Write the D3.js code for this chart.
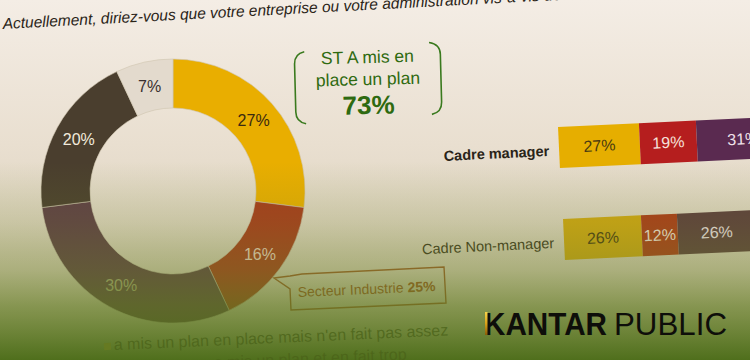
<!DOCTYPE html>
<html><head><meta charset="utf-8">
<script src="https://cdn.jsdelivr.net/npm/d3@7"></script>
<style>html,body{margin:0;padding:0;background:#f3ebe2;overflow:hidden}svg{display:block}text{font-family:"Liberation Sans",Arial,sans-serif}</style>
</head><body>
<script>
// ---- data ----
const donutCategories = ["segA", "segB", "segC", "segD", "segE"];
const donutValues = [27, 16, 30, 20, 7];
const donutColors = ["#e9ae00", "#a83a1c", "#5e3d46", "#4a3e2e", "#e3dacd"];
const donutTextColors = ["#3a2a10", "#f2d6c6", "#b0ad80", "#f2eadc", "#3a3030"];

const barRows = ["Cadre manager", "Cadre Non-manager"];
const barSeries1 = [27, 26];
const barSeries2 = [19, 12];
const barSeries3 = [31, 26];
const barColorsRow = [["#e6ae00", "#b51e1e", "#5a2a50"], ["#d2a812", "#ad3a18", "#5c3c3e"]];
const barTextColors = ["#4a3a10", "#f5e2da", "#f0e2ea"];

const titleText = "Actuellement, diriez-vous que votre entreprise ou votre administration vis-à-vis de la";
const calloutLines = ["ST A mis en", "place un plan", "73%"];
const sectorLabel = ["Secteur Industrie ", "25%"];

const W = 750, H = 360;
const svg = d3.select("body").append("svg").attr("width", W).attr("height", H);
const defs = svg.append("defs");

const bg = defs.append("linearGradient").attr("id", "bg").attr("x1", 0).attr("y1", 0).attr("x2", 0).attr("y2", 1);
[[0, "#f4ede5"], [0.4, "#e9dfd0"], [0.7, "#dcd2bd"], [1, "#d6ccb4"]].forEach(s => bg.append("stop").attr("offset", s[0]).attr("stop-color", s[1]));
const ov = defs.append("linearGradient").attr("id", "ov").attr("x1", 0).attr("y1", 0).attr("x2", 0).attr("y2", 1);
[[0, "rgb(110,130,40)", 0], [0.45, "rgb(110,130,40)", 0], [0.62, "rgb(110,130,40)", 0.2], [0.75, "rgb(105,128,38)", 0.42], [0.85, "rgb(95,122,32)", 0.68], [1, "rgb(72,106,20)", 0.95]]
  .forEach(s => ov.append("stop").attr("offset", s[0]).attr("stop-color", s[1]).attr("stop-opacity", s[2]));
const gold = defs.append("linearGradient").attr("id", "gold").attr("x1", 0).attr("y1", 0).attr("x2", 0).attr("y2", 1);
[[0, "#f7d24a"], [0.5, "#d9a21a"], [1, "#8a5a08"]].forEach(s => gold.append("stop").attr("offset", s[0]).attr("stop-color", s[1]));

svg.append("rect").attr("width", W).attr("height", H).attr("fill", "url(#bg)");

// title
svg.append("text").attr("transform", "translate(3,29) rotate(-3)")
  .attr("font-size", 15.5).attr("font-style", "italic").attr("fill", "#2a2418").text(titleText);

// donut
const cx = 173, cy = 191, rOut = 132, rIn = 83;
const pie = d3.pie().sort(null).value(d => d.v);
const arcs = pie(donutValues.map((v, i) => ({v, i})));
const arc = d3.arc().innerRadius(rIn).outerRadius(rOut);
const g = svg.append("g").attr("transform", `translate(${cx},${cy})`);
g.selectAll("path").data(arcs).join("path").attr("d", arc)
  .attr("fill", d => donutColors[d.data.i]).attr("stroke", "#cfc4ae").attr("stroke-width", 0.6);
g.selectAll("text").data(arcs).join("text")
  .attr("transform", d => `translate(${arc.centroid(d)})`)
  .attr("text-anchor", "middle").attr("dy", "0.35em").attr("font-size", 16)
  .attr("fill", d => donutTextColors[d.data.i]).text(d => d.data.v + "%");

// callout ST
const cg = svg.append("g").attr("transform", "rotate(-1.5,370,80)");
cg.append("path").attr("d", "M305,50 Q295,52 295,62 L295,110 Q295,120 305,122").attr("fill", "none").attr("stroke", "#3a7a1e").attr("stroke-width", 1.6);
cg.append("path").attr("d", "M430,44 Q441,46 441,56 L441,104 Q441,114 431,116").attr("fill", "none").attr("stroke", "#3a7a1e").attr("stroke-width", 1.6);
cg.selectAll("text").data(calloutLines).join("text")
  .attr("x", 368).attr("y", (d, i) => [63, 85, 114][i]).attr("text-anchor", "middle")
  .attr("font-size", (d, i) => i === 2 ? 26 : 17.5).attr("font-weight", (d, i) => i === 2 ? "bold" : "normal")
  .attr("fill", "#2e6a10").text(d => d);

// bars
const x = d3.scaleLinear().domain([0, 100]).range([0, 300]);
const barH = 41;
const rowOrigins = [[558, 127], [563, 219]];
barRows.forEach((row, r) => {
  const vals = [barSeries1[r], barSeries2[r], barSeries3[r]];
  let acc = 0;
  const segs = vals.map((v, k) => { const s = {x0: acc, v, k}; acc += v; return s; });
  const bg2 = svg.append("g").attr("transform", `translate(${rowOrigins[r][0]},${rowOrigins[r][1]}) rotate(-2.7)`);
  bg2.selectAll("rect").data(segs).join("rect")
    .attr("x", d => x(d.x0)).attr("y", 0).attr("width", d => x(d.v)).attr("height", barH)
    .attr("fill", d => barColorsRow[r][d.k]);
  bg2.selectAll("text.v").data(segs).join("text").attr("class", "v")
    .attr("x", d => x(d.x0 + d.v / 2)).attr("y", barH / 2).attr("dy", "0.35em").attr("text-anchor", "middle")
    .attr("font-size", 16).attr("fill", d => barTextColors[d.k]).text(d => d.v + "%");
  bg2.append("text").attr("x", -10).attr("y", barH / 2 + 8).attr("text-anchor", "end")
    .attr("font-size", 14.5).attr("font-weight", r === 0 ? "bold" : "normal")
    .attr("fill", r === 0 ? "#2a2418" : "#3a3420").text(row);
});

// sector callout
const sg = svg.append("g");
sg.append("path").attr("d", "M302,274 L444,267 L446,303 L291,310 L290,289 L274,278 L290,276 Z")
  .attr("fill", "none").attr("stroke", "#a05a28").attr("stroke-width", 1.4);
const st = sg.append("text").attr("transform", "translate(298,297) rotate(-2.5)").attr("font-size", 14).attr("fill", "#a0521e");
st.append("tspan").text(sectorLabel[0]);
st.append("tspan").attr("font-weight", "bold").text(sectorLabel[1]);

// overlay tint
svg.append("rect").attr("width", W).attr("height", H).attr("fill", "url(#ov)");

// bottom faint legend
svg.append("rect").attr("x", 104).attr("y", 343).attr("width", 7).attr("height", 7).attr("fill", "#667a22").attr("transform", "rotate(-2.5,107,346)");
svg.append("text").attr("transform", "translate(114,350) rotate(-2.5)").attr("font-size", 16).attr("fill", "#4a6218").attr("fill-opacity", 0.75).text("a mis un plan en place mais n'en fait pas assez");
svg.append("text").attr("transform", "translate(214,368) rotate(-2.5)").attr("font-size", 16).attr("fill", "#4a6218").attr("fill-opacity", 0.75).text("a mis un plan et en fait trop");

// logo
svg.append("text").attr("x", 484).attr("y", 335).attr("font-family", "Lato, sans-serif").attr("font-size", 32).attr("font-weight", "bold")
  .attr("fill", "#0e0e0a").attr("textLength", 123).attr("lengthAdjust", "spacingAndGlyphs").text("KANTAR");
svg.append("text").attr("x", 614).attr("y", 335).attr("font-family", "Lato, sans-serif").attr("font-size", 32).attr("font-weight", "normal")
  .attr("fill", "#0e0e0a").attr("textLength", 113).attr("lengthAdjust", "spacingAndGlyphs").text("PUBLIC");
svg.append("rect").attr("x", 485).attr("y", 312).attr("width", 2.5).attr("height", 23).attr("fill", "url(#gold)");
</script>
</body></html>
